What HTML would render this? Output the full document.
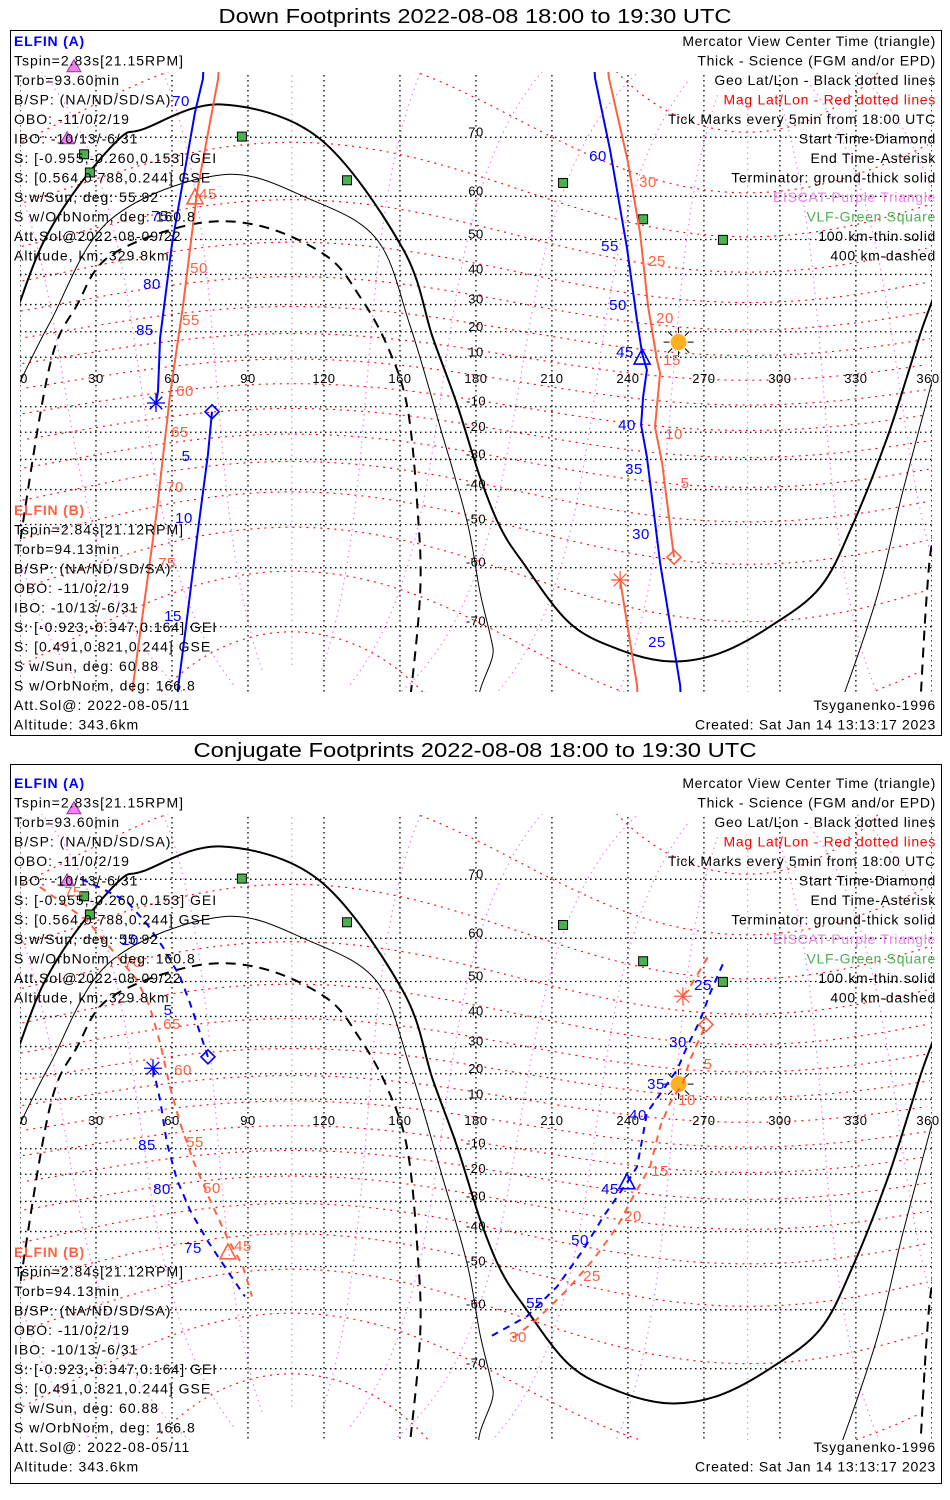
<!DOCTYPE html>
<html><head><meta charset="utf-8"><style>
html,body{margin:0;padding:0;background:#fff;}
svg{display:block;font-family:"Liberation Sans",sans-serif;}
</style></head><body>
<svg id="chart" width="950" height="1500" viewBox="0 0 950 1500" xmlns="http://www.w3.org/2000/svg">
<defs>
<clipPath id="clip0"><rect x="20" y="72" width="912" height="620"/></clipPath>
<clipPath id="clip1"><rect x="20" y="814" width="912" height="626"/></clipPath>
</defs>
<rect x="0" y="0" width="950" height="1500" fill="#fff"/>
<g id="panels"></g>
</svg>
<script>
// ---- data ----
const lonTicks = [0,30,60,90,120,150,180,210,240,270,300,330,360];
const lonTickLabels = ["0","30","60","90","120","160","180","210","240","270","300","330","360"];
const latTicks = [70,60,50,40,30,20,10,-10,-20,-30,-40,-50,-60,-70];
const latTickLabels = ["70","60","50","40","30","20","10","-10","-20","-30","-40","-50","-60","-70"];
const termGroundLon = [0,9,22.5,39.5,48.6,79,118,151,163,172.5,181.6,189.5,198.6,217,237,256.6,276,296,316,329,342,351,356,360];
const termGroundLat = [31,49,61.6,69.9,71.1,74.1,69.9,47.7,17.6,-8.9,-36,-50.6,-59,-69.5,-73,-74.3,-73.4,-70,-63.7,-49.6,-23,4.9,20.8,31];
const term100Lon = [0,12,35.5,80,114.5,141,154,166,176.5,181.6,186.7,192,320,323.7,338.3,348.6,360];
const term100Lat = [0,23.8,54.8,64.1,59.4,49.9,22.3,-18.5,-49.2,-64.6,-72.7,-80,-80,-78.5,-65.4,-40.3,0];
const term400Lon = [-5,-2,1.2,12,22.5,35.5,68,95,121,134,145,153,157,158,154,152];
const term400Lat = [-80,-65,-49.5,7.7,29.8,45.5,53.8,53.4,45.5,33,14.5,-10.5,-46.5,-64.6,-78,-80];
const vlfLon = [25.3,27.6,87.6,129.1,214.4,246,277.5];
const vlfLat = [67.5,64.5,70.1,63.1,62.6,55,49.9];
const eiscatLon = [18.6,21.3];
const eiscatLat = [69.8,77.8];
const sunLon = 260, sunLat = 16;

// Panel 1 (down footprints)
const p1A1Lon = [73,72.2,69.1,60,55.3,54.5,53.7];
const p1A1Lat = [80,76.7,73.2,48.8,17.6,-3.7,-8.5];
const p1A2Lon = [75.8,74.2,70.3,65.5,62.4,61.5];
const p1A2Lat = [-12,-28.4,-51.2,-70.1,-76.9,-80];
const p1A3Lon = [226,227,232.9,239.6,243.6,245.6,247.5,246,245.2,247.5,252.7,260.6,261.5];
const p1A3Lat = [80,76.8,68.3,47.9,24.4,11.6,4.9,-6.1,-17.2,-29.1,-59,-76.7,-80];
const p1B1Lon = [79,78.2,69.9,64.4,59.2,54.1,44.6,43];
const p1B1Lat = [80,76.7,60.9,29.8,-5.3,-46,-76.7,-80];
const p1B2Lon = [231,232.5,240,244.8,248,251.5,252.7,250.7,253.5,258.2];
const p1B2Lat = [80,76.8,66.3,51.6,29.1,8.9,3.7,-18,-31.2,-57.8];
const p1B3Lon = [236.9,243.6,244.5];
const p1B3Lat = [-62.4,-76.7,-80];

// Panel 2 (conjugate footprints)
const p2A1Lon = [74.2,71.1,67.1,63.2,56.5,50.1,42.2,32.8,22.5];
const p2A1Lat = [26.3,34.6,44,51.2,58.1,62.8,66.7,68.6,70.3];
const p2A2Lon = [52.5,55.3,58,62,67.1,73.8,81.7,88.8];
const p2A2Lat = [22.1,9.7,-7.7,-22.1,-33,-42.5,-50.9,-57.2];
const p2A3Lon = [186.3,200.2,212,222.3,230.2,235.7,239.6,243.6,245.6,247.5,253.8,259.4,263.3,268.5,272.4,277.5];
const p2A3Lat = [-64.9,-61.3,-55,-45.5,-35.3,-28.4,-23.2,-17.2,-6.5,4.5,13.7,21.5,29.8,38.8,46.8,54.4];
const p2B1Lon = [7.9,26.5,35.5,46.2,51.3,55.3,59.2,63.2,68.3,75,81.7,88,91.6];
const p2B1Lat = [68.9,63.4,58.1,50.4,42.9,31.2,14.9,0.4,-14.5,-29.5,-41.6,-50,-57.2];
const p2B2Lon = [194.6,204.1,216,226.2,235.7,242,248.7,252.7,256.6,261.7,264.5,270.8];
const p2B2Lat = [-65.3,-61.9,-55.7,-48.3,-38.6,-28.4,-17.2,-1.2,8.5,16.4,25.2,37.4];
const p2B3Lon = [261.7,264.5,272.4];
const p2B3Lat = [46,48.6,56.8];

// ---- helpers ----
const NS = "http://www.w3.org/2000/svg";
const EQ = [382,1124];
const BLUE = "#0000ff", CORAL = "#ff6040";
function X(lon){ return 20 + lon*2.533; }
function Y(lat,p){ const r = lat*Math.PI/180; return EQ[p] - 141*Math.log(Math.tan(Math.PI/4 + r/2)); }
function mk(tag, attrs, parent){ const e = document.createElementNS(NS, tag); for (const k in attrs) e.setAttribute(k, attrs[k]); parent.appendChild(e); return e; }
function pathFrom(lons, lats, p, shift){ let d=""; for (let i=0;i<lons.length;i++){ d += (i?"L":"M") + X(lons[i]+shift).toFixed(1) + " " + Y(lats[i],p).toFixed(1); } return d; }
function smoothFrom(lons, lats, p, shift){
  const P = lons.map((lo,i)=>[X(lo+shift), Y(lats[i],p)]);
  let d = "M"+P[0][0].toFixed(1)+" "+P[0][1].toFixed(1);
  for (let i=0;i<P.length-1;i++){
    const p0=P[Math.max(0,i-1)], p1=P[i], p2=P[i+1], p3=P[Math.min(P.length-1,i+2)];
    const c1=[p1[0]+(p2[0]-p0[0])/6, p1[1]+(p2[1]-p0[1])/6];
    const c2=[p2[0]-(p3[0]-p1[0])/6, p2[1]-(p3[1]-p1[1])/6];
    d += "C"+c1[0].toFixed(1)+" "+c1[1].toFixed(1)+" "+c2[0].toFixed(1)+" "+c2[1].toFixed(1)+" "+p2[0].toFixed(1)+" "+p2[1].toFixed(1);
  }
  return d;
}
function txt(parent, x, y, s, opts){
  const t = mk("text", {x:x, y:y, "font-size": (opts&&opts.size)||14, fill:(opts&&opts.fill)||"#000"}, parent);
  if (opts && opts.anchor) t.setAttribute("text-anchor", opts.anchor);
  if (opts && opts.weight) t.setAttribute("font-weight", opts.weight);
  if (opts && opts.ls) t.setAttribute("letter-spacing", opts.ls);
  if (opts && opts.len) { t.setAttribute("textLength", opts.len); t.setAttribute("lengthAdjust","spacingAndGlyphs"); }
  t.textContent = s;
  return t;
}
const POLE_COLAT = 9.3*Math.PI/180, POLE_LON = 287.3*Math.PI/180;
function magToGeo(mlat, mlon){
  const l = mlat*Math.PI/180, f = mlon*Math.PI/180;
  const xm = Math.cos(l)*Math.cos(f), ym = Math.cos(l)*Math.sin(f), zm = Math.sin(l);
  const x1 = xm*Math.cos(POLE_COLAT) + zm*Math.sin(POLE_COLAT), z1 = -xm*Math.sin(POLE_COLAT) + zm*Math.cos(POLE_COLAT), y1 = ym;
  const x2 = x1*Math.cos(POLE_LON) - y1*Math.sin(POLE_LON), y2 = x1*Math.sin(POLE_LON) + y1*Math.cos(POLE_LON);
  let lon = Math.atan2(y2,x2)*180/Math.PI; if (lon<0) lon += 360;
  return [lon, Math.asin(Math.max(-1,Math.min(1,z1)))*180/Math.PI];
}
function polyPieces(points, p){
  let d="", prev=null;
  for (const pt of points){
    const lat = Math.max(-84, Math.min(84, pt[1]));
    if (!prev || Math.abs(pt[0]-prev[0])>180) d += "M"; else d += "L";
    d += X(pt[0]).toFixed(1)+" "+Y(lat,p).toFixed(1);
    prev = pt;
  }
  return d;
}
function marker(g, kind, lon, lat, p, color, name){
  const x = X(lon), y = Y(lat,p);
  let e;
  if (kind==="tri") e = mk("path", {d:`M${x} ${y-9}L${x+8} ${y+6}L${x-8} ${y+6}Z`, fill:"none", stroke:color, "stroke-width":1.6}, g);
  else if (kind==="dia") e = mk("path", {d:`M${x} ${y-7}L${x+7} ${y}L${x} ${y+7}L${x-7} ${y}Z`, fill:"none", stroke:color, "stroke-width":1.6}, g);
  else { let d=""; for (let a=0;a<4;a++){ const t=a*Math.PI/4; d+=`M${x-9*Math.cos(t)} ${y-9*Math.sin(t)}L${x+9*Math.cos(t)} ${y+9*Math.sin(t)}`; } e = mk("path",{d:d, stroke:color, "stroke-width":1.3, fill:"none"}, g); }
  
  
}

const root = document.getElementById("panels");

function drawPanel(p, cfg){
  const off = p ? 742 : 0;
  const g = mk("g", {}, root);
  
  
  const frame = mk("rect", {x:10.5, y:p?764.5:30.5, width:931, height: p?719:705, fill:"none", stroke:"#000", "stroke-width":1}, g);
  
  
  const title = txt(g, 475, p?757:23, cfg.title, {size:20, anchor:"middle", len: cfg.titleLen});
  
  

  const map = mk("g", {"clip-path":`url(#clip${p})`}, g);
  
  
  for (let ml=0; ml<360; ml+=30){
    const pts=[]; for (let la=-84; la<=84; la+=2) pts.push(magToGeo(la, ml));
    const e = mk("path", {d:polyPieces(pts,p), fill:"none", stroke:"#ee82ee", "stroke-width":1.2, "stroke-dasharray":"1.5,4"}, map);
    
    
  }
  for (let mla=-80; mla<=80; mla+=10){
    const pts=[]; for (let ml=0; ml<=360; ml+=3) pts.push(magToGeo(mla, ml));
    pts.sort((a,b)=>a[0]-b[0]);
    const e = mk("path", {d:polyPieces(pts,p), fill:"none", stroke:"#ff0000", "stroke-width":1.1, "stroke-dasharray":"2,5"}, map);
    
    
  }
  for (const la of latTicks){
    const e = mk("line", {x1:20, x2:932, y1:Y(la,p), y2:Y(la,p), stroke:"#000", "stroke-width":1.3, "stroke-dasharray":"1.5,3.5"}, map);
    
    
  }
  for (const lo of lonTicks){
    const e = mk("line", {x1:X(lo), x2:X(lo), y1:60+off, y2:700+off, stroke:"#000", "stroke-width":1.3, "stroke-dasharray":"1.5,3.5"}, map);
    
    
  }
  for (const s of [-360,0,360]){
    let e = mk("path", {d:smoothFrom(termGroundLon, termGroundLat, p, s), fill:"none", stroke:"#000", "stroke-width":2}, map);
    
    
    e = mk("path", {d:smoothFrom(term100Lon, term100Lat, p, s), fill:"none", stroke:"#000", "stroke-width":1}, map);
    
    
    e = mk("path", {d:smoothFrom(term400Lon, term400Lat, p, s), fill:"none", stroke:"#000", "stroke-width":2, "stroke-dasharray":"10,7"}, map);
    
    
  }
  lonTicks.forEach((lo,i)=>{
    const e = txt(g, i===0?24:(i===12?928:X(lo)), EQ[p]+1, lonTickLabels[i], {size:13, anchor:"middle", ls:0.5});
    
    
  });
  latTicks.forEach((la,i)=>{
    const e = txt(g, 476, Y(la,p)-1, latTickLabels[i], {size:13, anchor:"middle", ls:0.5});
    
    
  });
  vlfLon.forEach((lo,i)=>{
    const e = mk("rect", {x:X(lo)-4.5, y:Y(vlfLat[i],p)-4.5, width:9, height:9, fill:"#4caf50", stroke:"#000", "stroke-width":1}, g);
    
    
  });
  eiscatLon.forEach((lo,i)=>{
    const x=X(lo), y=Y(eiscatLat[i],p);
    const e = mk("path", {d:`M${x} ${y-7}L${x+7} ${y+5}L${x-7} ${y+5}Z`, fill:"#ee82ee", stroke:"#a030a0", "stroke-width":1}, g);
    
    
  });
  const sx=X(sunLon), sy=Y(sunLat,p);
  let rays=""; for(let a=0;a<8;a++){const t=a*Math.PI/4; rays+=`M${sx+9*Math.cos(t)} ${sy+9*Math.sin(t)}L${sx+15*Math.cos(t)} ${sy+15*Math.sin(t)}`;}
  let e = mk("path", {d:rays, stroke:"#000", "stroke-width":1}, g);
  
  
  e = mk("circle", {cx:sx, cy:sy, r:8, fill:"#ffb020"}, g);
  
  

  const tg = mk("g", {"clip-path":`url(#clip${p})`}, g);
  for (const t of cfg.tracks){
    const e2 = mk("path", {d:pathFrom(t.lon, t.lat, p, 0), fill:"none", stroke:t.color, "stroke-width":2}, tg);
    if (t.dash) e2.setAttribute("stroke-dasharray", "7,6");
    
    
  }
  for (const m of cfg.markers) marker(g, m[0], m[1], m[2], p, m[3], m[4]);
  for (const l of cfg.labels){
    const e3 = txt(g, l[1], l[2]+off+5, l[0], {size:15, anchor:"middle", fill:l[3], ls:0.5});
    
    
  }

  const lh = 19.5;
  const aLines = ["Tspin=2.83s[21.15RPM]","Torb=93.60min","B/SP: (NA/ND/SD/SA)","OBO: -11/0/2/19","IBO: -10/13/-6/31","S: [-0.955,-0.260,0.153] GEI","S: [0.564,0.788,0.244] GSE","S w/Sun, deg: 55.92","S w/OrbNorm, deg: 160.8","Att.Sol@2022-08-09/22","Altitude, km: 329.8km"];
  const bLines = ["Tspin=2.84s[21.12RPM]","Torb=94.13min","B/SP: (NA/ND/SD/SA)","OBO: -11/0/2/19","IBO: -10/13/-6/31","S: [-0.923,-0.347,0.164] GEI","S: [0.491,0.821,0.244] GSE","S w/Sun, deg: 60.88","S w/OrbNorm, deg: 166.8","Att.Sol@: 2022-08-05/11","Altitude: 343.6km"];
  const legend = [["Mercator View Center Time (triangle)","#000"],["Thick - Science (FGM and/or EPD)","#000"],["Geo Lat/Lon - Black dotted lines","#000"],["Mag Lat/Lon - Red dotted lines","#ff0000"],["Tick Marks every 5min from 18:00 UTC","#000"],["Start Time-Diamond","#000"],["End Time-Asterisk","#000"],["Terminator: ground-thick solid","#000"],["EISCAT-Purple Triangle","#ee82ee"],["VLF-Green Square","#4caf50"],["100 km-thin solid","#000"],["400 km-dashed","#000"]];
  const y0 = 46+off;
  e = txt(g, 14, y0, "ELFIN (A)", {fill:BLUE, weight:"bold", ls:0.8});
  
  
  aLines.forEach((s,i)=>{ const t=txt(g,14,y0+lh*(i+1),s,{ls:1});   });
  const yb = 515+off;
  e = txt(g, 14, yb, "ELFIN (B)", {fill:CORAL, weight:"bold", ls:0.8});
  
  
  bLines.forEach((s,i)=>{ const t=txt(g,14,yb+lh*(i+1),s,{ls:1});   });
  legend.forEach((l,i)=>{ const t=txt(g,936,y0+lh*i,l[0],{anchor:"end",fill:l[1],ls:0.7});   });
  e = txt(g, 936, yb+lh*10, "Tsyganenko-1996", {anchor:"end", ls:0.8});
  
  
  e = txt(g, 936, yb+lh*11, "Created: Sat Jan 14 13:13:17 2023", {anchor:"end", ls:0.7});
  
  
}

drawPanel(0, {
  title:"Down Footprints 2022-08-08 18:00 to 19:30 UTC", titleLen:513,
  tracks:[
    {lon:p1A1Lon, lat:p1A1Lat, color:BLUE, name:"elfin-a-track-1"},
    {lon:p1A2Lon, lat:p1A2Lat, color:BLUE, name:"elfin-a-track-2"},
    {lon:p1A3Lon, lat:p1A3Lat, color:BLUE, name:"elfin-a-track-3"},
    {lon:p1B1Lon, lat:p1B1Lat, color:CORAL, name:"elfin-b-track-1"},
    {lon:p1B2Lon, lat:p1B2Lat, color:CORAL, name:"elfin-b-track-2"},
    {lon:p1B3Lon, lat:p1B3Lat, color:CORAL, name:"elfin-b-track-3"}],
  markers:[["tri",245.6,9.7,BLUE,"elfin-a-center-triangle"],["tri",69.1,59.7,CORAL,"elfin-b-center-triangle"],
    ["dia",p1A2Lon[0],p1A2Lat[0],BLUE,"elfin-a-start"],["ast",p1A1Lon[6],p1A1Lat[6],BLUE,"elfin-a-end"],
    ["dia",p1B2Lon[9],p1B2Lat[9],CORAL,"elfin-b-start"],["ast",p1B3Lon[0],p1B3Lat[0],CORAL,"elfin-b-end"]],
  labels:[["70",181,101,BLUE],["75",160,216,BLUE],["80",152,284,BLUE],["85",145,330,BLUE],["5",186,456,BLUE],["10",184,518,BLUE],["15",173,616,BLUE],
    ["60",598,156,BLUE],["55",610,246,BLUE],["50",618,305,BLUE],["45",625,352,BLUE],["40",627,425,BLUE],["35",634,469,BLUE],["30",641,534,BLUE],["25",657,642,BLUE],
    ["45",208,194,CORAL],["50",199,268,CORAL],["55",191,320,CORAL],["60",185,391,CORAL],["65",180,432,CORAL],["70",175,487,CORAL],["75",167,563,CORAL],
    ["30",648,182,CORAL],["25",657,261,CORAL],["20",665,318,CORAL],["15",672,360,CORAL],["10",674,434,CORAL],["5",685,483,CORAL]]
});
drawPanel(1, {
  title:"Conjugate Footprints 2022-08-08 18:00 to 19:30 UTC", titleLen:563,
  tracks:[
    {lon:p2A1Lon, lat:p2A1Lat, color:BLUE, dash:true, name:"elfin-a-track-1"},
    {lon:p2A2Lon, lat:p2A2Lat, color:BLUE, dash:true, name:"elfin-a-track-2"},
    {lon:p2A3Lon, lat:p2A3Lat, color:BLUE, dash:true, name:"elfin-a-track-3"},
    {lon:p2B1Lon, lat:p2B1Lat, color:CORAL, dash:true, name:"elfin-b-track-1"},
    {lon:p2B2Lon, lat:p2B2Lat, color:CORAL, dash:true, name:"elfin-b-track-2"},
    {lon:p2B3Lon, lat:p2B3Lat, color:CORAL, dash:true, name:"elfin-b-track-3"}],
  markers:[["tri",239.6,-23.2,BLUE,"elfin-a-center-triangle"],["tri",82.1,-46.3,CORAL,"elfin-b-center-triangle"],
    ["dia",p2A1Lon[0],p2A1Lat[0],BLUE,"elfin-a-start"],["ast",p2A2Lon[0],p2A2Lat[0],BLUE,"elfin-a-end"],
    ["dia",p2B2Lon[11],p2B2Lat[11],CORAL,"elfin-b-start"],["ast",p2B3Lon[0],p2B3Lat[0],CORAL,"elfin-b-end"]],
  labels:[["10",130,198,BLUE],["5",168,268,BLUE],["85",147,403,BLUE],["80",162,447,BLUE],["75",193,506,BLUE],
    ["25",703,243,BLUE],["30",678,300,BLUE],["35",656,342,BLUE],["40",638,373,BLUE],["45",610,447,BLUE],["50",580,498,BLUE],["55",535,561,BLUE],
    ["75",73,150,CORAL],["70",133,220,CORAL],["65",172,282,CORAL],["60",183,328,CORAL],["55",195,400,CORAL],["50",212,446,CORAL],["45",243,504,CORAL],
    ["5",708,322,CORAL],["10",687,358,CORAL],["15",660,429,CORAL],["20",633,474,CORAL],["25",592,534,CORAL],["30",518,595,CORAL]]
});
</script>
</body></html>
